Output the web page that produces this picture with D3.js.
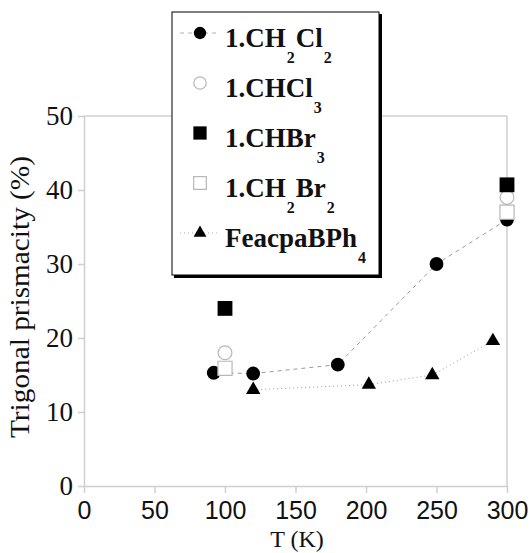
<!DOCTYPE html>
<html>
<head>
<meta charset="utf-8">
<script src="https://cdn.jsdelivr.net/npm/d3@7/dist/d3.min.js"></script>
<style>
  html, body { margin: 0; padding: 0; background: #fff; }
  svg { display: block; }
</style>
</head>
<body>
<svg id="chart" width="532" height="553"></svg>
<script>
// Temperature (K) and trigonal prismacity (%) for each solvate
const tCH2Cl2 = [92, 120, 180, 250, 300];
const vCH2Cl2 = [15.3, 15.2, 16.4, 30.0, 36.0];
const tCHCl3 = [100, 300];
const vCHCl3 = [18.0, 39.0];
const tCHBr3 = [100, 300];
const vCHBr3 = [24.0, 40.7];
const tCH2Br2 = [100, 300];
const vCH2Br2 = [15.9, 37.0];
const tFeacpa = [120, 202, 247, 290];
const vFeacpa = [13.0, 13.7, 15.0, 19.6];

const xTicks = [0, 50, 100, 150, 200, 250, 300];
const yTicks = [0, 10, 20, 30, 40, 50];

const svg = d3.select("#chart");
const serif = "'Liberation Serif', 'Times New Roman', serif";
const sans = "'Liberation Sans', Arial, sans-serif";
const axisGray = "#cfcfcf";

const x = d3.scaleLinear().domain([0, 300]).range([84, 507]);
const y = d3.scaleLinear().domain([0, 50]).range([486, 116]);

// frame: top and right edges
svg.append("line").attr("x1", x(0)).attr("x2", x(300)).attr("y1", y(50)).attr("y2", y(50))
  .attr("stroke", axisGray).attr("stroke-width", 1.5);
svg.append("line").attr("x1", x(300)).attr("x2", x(300)).attr("y1", y(50)).attr("y2", y(0))
  .attr("stroke", axisGray).attr("stroke-width", 1.5);

// x axis
const gx = svg.append("g").attr("transform", `translate(0,${y(0)})`)
  .call(d3.axisBottom(x).tickValues(xTicks).tickSize(7).tickSizeOuter(0).tickPadding(8));
gx.select(".domain").attr("stroke", axisGray).attr("stroke-width", 1.5);
gx.selectAll(".tick line").attr("stroke", axisGray).attr("stroke-width", 1.5);
gx.selectAll(".tick text").attr("font-family", sans).attr("font-size", 25).attr("fill", "#111");

// y axis
const gy = svg.append("g").attr("transform", `translate(${x(0)},0)`)
  .call(d3.axisLeft(y).tickValues(yTicks).tickSize(6).tickSizeOuter(0).tickPadding(5));
gy.select(".domain").attr("stroke", axisGray).attr("stroke-width", 1.5);
gy.selectAll(".tick line").attr("stroke", axisGray).attr("stroke-width", 1.5);
gy.selectAll(".tick text").attr("font-family", serif).attr("font-size", 27).attr("fill", "#111");

// axis titles
svg.append("text").attr("x", 297).attr("y", 547).attr("text-anchor", "middle")
  .attr("font-family", serif).attr("font-size", 24).attr("fill", "#111").text("T (K)");
svg.append("text").attr("transform", "translate(29,297) rotate(-90)").attr("text-anchor", "middle")
  .attr("font-family", serif).attr("font-size", 27).attr("fill", "#111")
  .attr("textLength", 282).attr("lengthAdjust", "spacingAndGlyphs")
  .text("Trigonal prismacity (%)");

const zip = (ts, vs) => ts.map((t, i) => [t, vs[i]]);
const line = d3.line().x(d => x(d[0])).y(d => y(d[1]));

// connecting lines
svg.append("path").datum(zip(tCH2Cl2, vCH2Cl2)).attr("d", line)
  .attr("fill", "none").attr("stroke", "#9a9a9a").attr("stroke-width", 1).attr("stroke-dasharray", "4,4");
svg.append("path").datum(zip(tFeacpa, vFeacpa)).attr("d", line)
  .attr("fill", "none").attr("stroke", "#9a9a9a").attr("stroke-width", 1).attr("stroke-dasharray", "1,3");

const styles = [
  { name: "CH2Cl2", t: tCH2Cl2, v: vCH2Cl2, type: d3.symbolCircle, size: 150, fill: "#000", stroke: "none" },
  { name: "CHCl3", t: tCHCl3, v: vCHCl3, type: d3.symbolCircle, size: 150, fill: "#fff", stroke: "#b8b8b8" },
  { name: "CHBr3", t: tCHBr3, v: vCHBr3, type: d3.symbolSquare, size: 220, fill: "#000", stroke: "none" },
  { name: "CH2Br2", t: tCH2Br2, v: vCH2Br2, type: d3.symbolSquare, size: 200, fill: "#fff", stroke: "#b8b8b8" },
  { name: "Feacpa", t: tFeacpa, v: vFeacpa, type: d3.symbolTriangle, size: 90, fill: "#000", stroke: "none" }
];

styles.forEach(s => {
  svg.append("g").selectAll("path").data(zip(s.t, s.v)).join("path")
    .attr("transform", d => `translate(${x(d[0])},${y(d[1])})`)
    .attr("d", d3.symbol().type(s.type).size(s.size))
    .attr("fill", s.fill).attr("stroke", s.stroke).attr("stroke-width", 1.2);
});

// legend
const lg = svg.append("g");
lg.append("rect").attr("x", 174).attr("y", 14).attr("width", 208).attr("height", 264).attr("fill", "#000");
lg.append("rect").attr("x", 172).attr("y", 12).attr("width", 207).attr("height", 263)
  .attr("fill", "#fff").attr("stroke", "#000").attr("stroke-width", 1);

const legendLabels = [
  [["1.CH", 0], ["2", 1], ["Cl", 0], ["2", 1]],
  [["1.CHCl", 0], ["3", 1]],
  [["1.CHBr", 0], ["3", 1]],
  [["1.CH", 0], ["2", 1], ["Br", 0], ["2", 1]],
  [["FeacpaBPh", 0], ["4", 1]]
];
const legendDash = ["4,4", null, null, null, "1,3"];

styles.forEach((s, i) => {
  const base = 47 + i * 50;
  const my = base - 14;
  if (legendDash[i]) {
    lg.append("line").attr("x1", 180).attr("x2", 220).attr("y1", my).attr("y2", my)
      .attr("stroke", "#b0b0b0").attr("stroke-width", 1).attr("stroke-dasharray", legendDash[i]);
  }
  lg.append("path").attr("transform", `translate(200,${my})`)
    .attr("d", d3.symbol().type(s.type).size(s.size * 0.8))
    .attr("fill", s.fill).attr("stroke", s.stroke).attr("stroke-width", 1.2);
  const txt = lg.append("text").attr("x", 225).attr("y", base)
    .attr("font-family", serif).attr("font-weight", "bold").attr("font-size", 27).attr("fill", "#111");
  let sub = false;
  legendLabels[i].forEach(([str, isSub]) => {
    const ts = txt.append("tspan").text(str);
    if (isSub && !sub) { ts.attr("dy", 16).attr("dx", 1).attr("font-size", 16); sub = true; }
    else if (!isSub && sub) { ts.attr("dy", -16).attr("dx", 1); sub = false; }
  });
});
</script>
</body>
</html>
